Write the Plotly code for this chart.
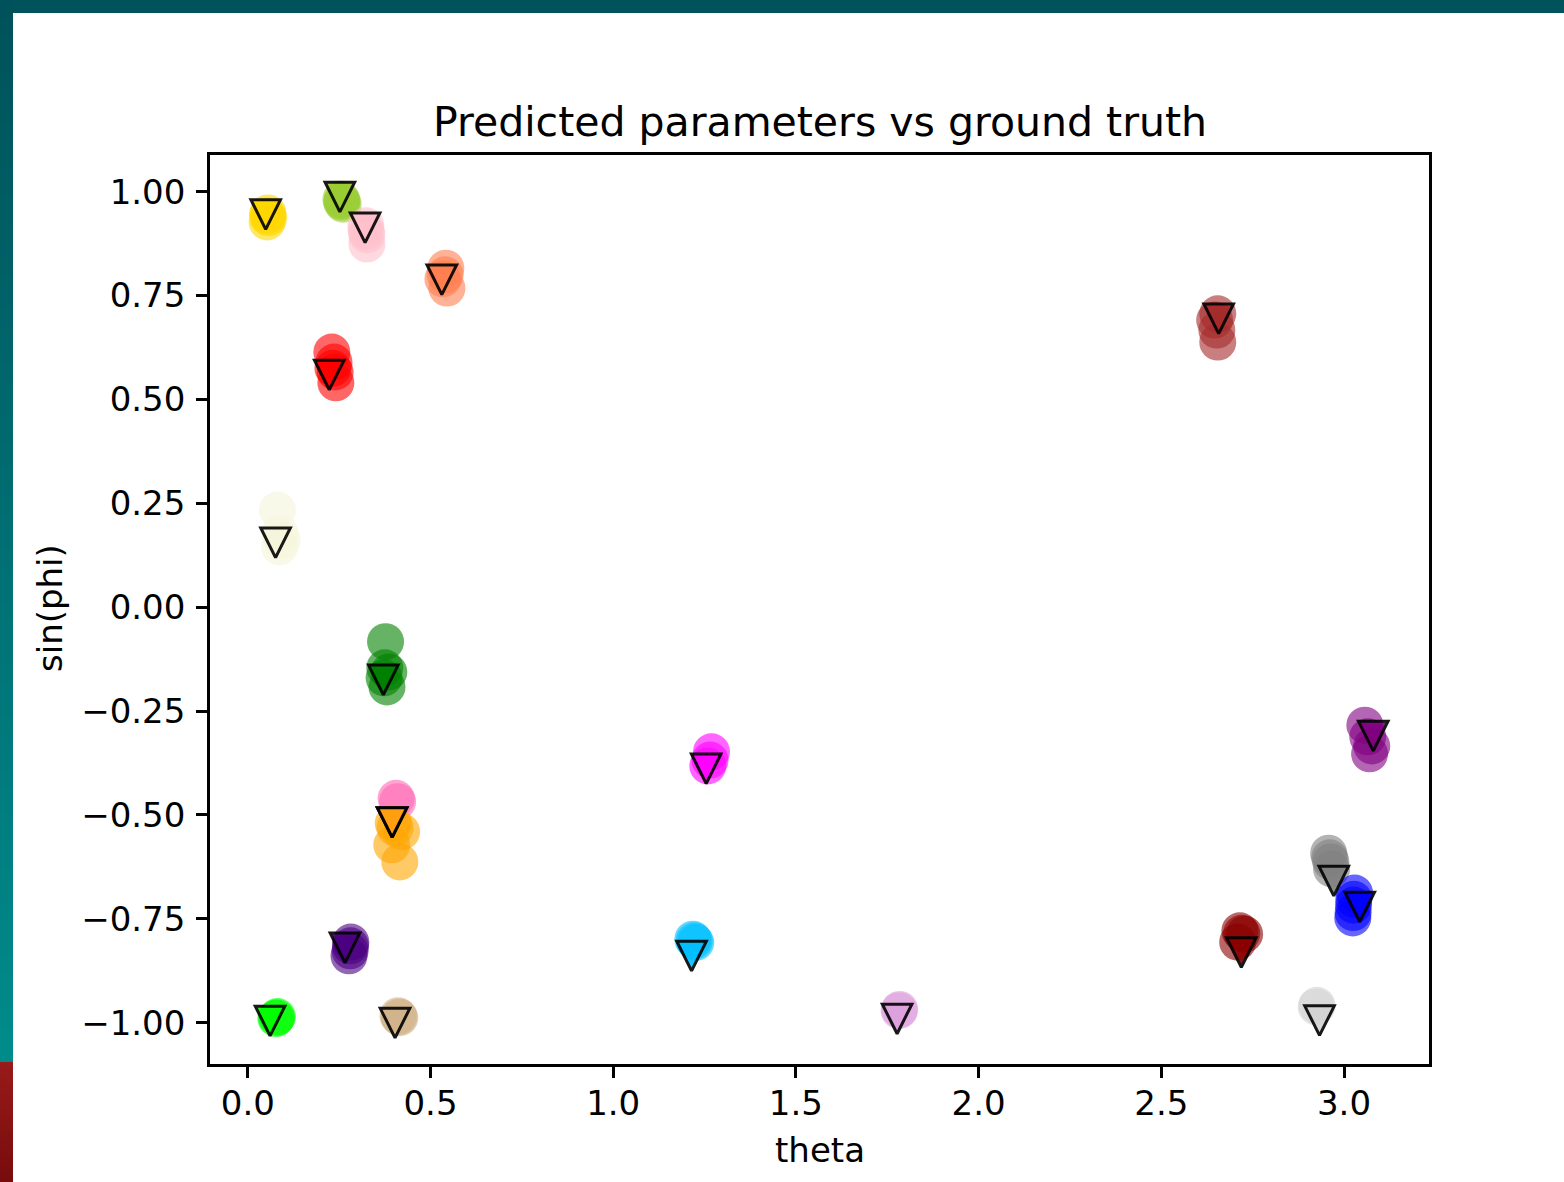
import plotly.graph_objects as go

# ---- data: one colour per object, ground truth (triangles) and predictions (circles)
colors = [
    "#FFD700", "#9ACD32", "#FFC0CB", "#FF7F50", "#FF0000", "#F5F5DC", "#008000",
    "#FF69B4", "#FFA500", "#4B0082", "#00FF00", "#D2B48C", "#FF00FF", "#00BFFF",
    "#DDA0DD", "#A52A2A", "#8B0000", "#800080", "#808080", "#0000FF", "#D3D3D3",
]

truth_theta = [0.049, 0.252, 0.321, 0.531, 0.223, 0.076, 0.371,
               0.395, 0.395, 0.266, 0.061, 0.403, 1.2545, 1.2145,
               1.777, 2.657, 2.719, 3.080, 2.972, 3.043, 2.933]
truth_sinphi = [0.945, 0.987, 0.913, 0.788, 0.559, 0.155, -0.175,
                -0.518, -0.518, -0.820, -0.996, -1.001, -0.389, -0.8395,
                -0.991, 0.694, -0.831, -0.310, -0.659, -0.7215, -0.995]

pred_theta = [
    [0.055, 0.057, 0.053, 0.054],
    [0.258, 0.261, 0.255, 0.257],
    [0.323, 0.326, 0.326, 0.324],
    [0.542, 0.534, 0.545, 0.540],
    [0.230, 0.236, 0.239, 0.241, 0.233],
    [0.081, 0.088, 0.094, 0.087],
    [0.377, 0.375, 0.386, 0.381, 0.373],
    [0.406, 0.410],
    [0.398, 0.421, 0.394, 0.416, 0.403],
    [0.282, 0.280, 0.277, 0.281],
    [0.079, 0.081, 0.077],
    [0.414, 0.411, 0.416],
    [1.269, 1.265, 1.259],
    [1.218, 1.226, 1.222],
    [1.7825, 1.784],
    [2.6545, 2.646, 2.652, 2.6545],
    [2.715, 2.728, 2.709, 2.720],
    [3.057, 3.065, 3.076, 3.070],
    [2.958, 2.964, 2.966, 2.961],
    [3.029, 3.026, 3.024, 3.027, 3.025],
    [2.924, 2.926],
]
pred_sinphi = [
    [0.949, 0.937, 0.927, 0.942],
    [0.978, 0.970, 0.982, 0.975],
    [0.918, 0.896, 0.874, 0.905],
    [0.816, 0.790, 0.768, 0.800],
    [0.614, 0.590, 0.566, 0.540, 0.575],
    [0.234, 0.178, 0.160, 0.145],
    [-0.083, -0.146, -0.156, -0.192, -0.170],
    [-0.460, -0.468],
    [-0.520, -0.540, -0.572, -0.613, -0.531],
    [-0.806, -0.827, -0.839, -0.815],
    [-0.988, -0.985, -0.990],
    [-0.986, -0.983, -0.988],
    [-0.348, -0.368, -0.382],
    [-0.799, -0.807, -0.803],
    [-0.971, -0.968],
    [0.706, 0.691, 0.667, 0.638],
    [-0.779, -0.787, -0.806, -0.785],
    [-0.284, -0.312, -0.334, -0.353],
    [-0.592, -0.613, -0.630, -0.603],
    [-0.688, -0.717, -0.748, -0.703, -0.735],
    [-0.962, -0.958],
]

x_ticks = [0.0, 0.5, 1.0, 1.5, 2.0, 2.5, 3.0]
y_ticks = [-1.00, -0.75, -0.50, -0.25, 0.00, 0.25, 0.50, 0.75, 1.00]

# ---- geometry
W, H = 1564, 1182
ML, MR, MT, MB = 210, 135, 155, 118
PW, PH = W - ML - MR, H - MT - MB
x_range = [-0.1034, 3.2326]
y_range = [-1.0994, 1.0883]
px_per_x = PW / (x_range[1] - x_range[0])
px_per_y = PH / (y_range[1] - y_range[0])

FONT = "DejaVu Sans"
CIRCLE_D = 37          # circle diameter (px)
TRI_HALF = 14.8        # triangle half width / half height (px)


def rgba(hex_color, a):
    h = hex_color.lstrip("#")
    r, g, b = int(h[0:2], 16), int(h[2:4], 16), int(h[4:6], 16)
    return f"rgba({r},{g},{b},{a})"


fig = go.Figure()

# predictions: translucent circles
for c, xs, ys in zip(colors, pred_theta, pred_sinphi):
    fig.add_trace(go.Scatter(
        x=xs, y=ys, mode="markers",
        marker=dict(size=CIRCLE_D, color=rgba(c, 0.6), line=dict(width=0)),
        hoverinfo="skip", showlegend=False,
    ))

# ground truth: downward triangles with black edges
dx = TRI_HALF / px_per_x
dy = TRI_HALF / px_per_y
for c, tx, ty in zip(colors, truth_theta, truth_sinphi):
    xs = [tx - dx, tx + dx, tx, tx - dx, tx + dx]
    ys = [ty + dy, ty + dy, ty - dy, ty + dy, ty + dy]
    fig.add_trace(go.Scatter(
        x=xs, y=ys, mode="lines", fill="toself", fillcolor=c,
        line=dict(color="black", width=3),
        opacity=0.9, hoverinfo="skip", showlegend=False,
    ))


def paper_x(px):
    return (px - ML) / PW


def paper_y(py):
    return (H - MB - py) / PH


# frame decoration: dark teal band on top, teal-to-red strip on the left
shapes = [dict(type="rect", xref="paper", yref="paper",
               x0=paper_x(0), x1=paper_x(W), y0=paper_y(13), y1=paper_y(0),
               fillcolor="#00535a", line=dict(width=0), layer="above")]
teal_top, teal_bot = (0, 82, 90), (0, 139, 139)
n = 120
seg_top, seg_bot = 0, 1062
for i in range(n):
    t = i / (n - 1)
    col = tuple(round(a + (b - a) * t) for a, b in zip(teal_top, teal_bot))
    y0 = seg_top + (seg_bot - seg_top) * i / n
    y1 = seg_top + (seg_bot - seg_top) * (i + 1) / n
    shapes.append(dict(type="rect", xref="paper", yref="paper",
                       x0=paper_x(0), x1=paper_x(13), y0=paper_y(y1 + 1), y1=paper_y(y0),
                       fillcolor=f"rgb{col}", line=dict(width=0), layer="above"))
red_top, red_bot = (152, 26, 26), (120, 12, 12)
m = 30
for i in range(m):
    t = i / (m - 1)
    col = tuple(round(a + (b - a) * t) for a, b in zip(red_top, red_bot))
    y0 = seg_bot + (H - seg_bot) * i / m
    y1 = seg_bot + (H - seg_bot) * (i + 1) / m
    shapes.append(dict(type="rect", xref="paper", yref="paper",
                       x0=paper_x(0), x1=paper_x(13), y0=paper_y(y1 + 1), y1=paper_y(y0),
                       fillcolor=f"rgb{col}", line=dict(width=0), layer="above"))

annotations = [
    dict(text="Predicted parameters vs ground truth", xref="paper", yref="paper",
         x=0.5, y=paper_y(122), xanchor="center", yanchor="middle", showarrow=False,
         font=dict(family=FONT, size=41, color="black")),
    dict(text="theta", xref="paper", yref="paper",
         x=0.5, y=paper_y(1150), xanchor="center", yanchor="middle", showarrow=False,
         font=dict(family=FONT, size=34, color="black")),
    dict(text="sin(phi)", xref="paper", yref="paper", textangle=-90,
         x=paper_x(50), y=paper_y(608), xanchor="center", yanchor="middle", showarrow=False,
         font=dict(family=FONT, size=34, color="black")),
]

axis_common = dict(
    showline=True, mirror=True, linecolor="black", linewidth=2.7,
    ticks="outside", ticklen=11, tickwidth=2.7, tickcolor="black",
    showgrid=False, zeroline=False, automargin=False,
    tickfont=dict(family=FONT, size=34, color="black"),
)

fig.update_layout(
    width=W, height=H,
    margin=dict(l=ML, r=MR, t=MT, b=MB, pad=0),
    paper_bgcolor="white", plot_bgcolor="white",
    xaxis=dict(range=x_range, tickvals=x_ticks, tickformat=".1f",
               ticklabelstandoff=-4, **axis_common),
    yaxis=dict(range=y_range, tickvals=y_ticks, tickformat=".2f",
               ticklabelstandoff=4, **axis_common),
    shapes=shapes, annotations=annotations,
)

fig.write_html("out.html")
